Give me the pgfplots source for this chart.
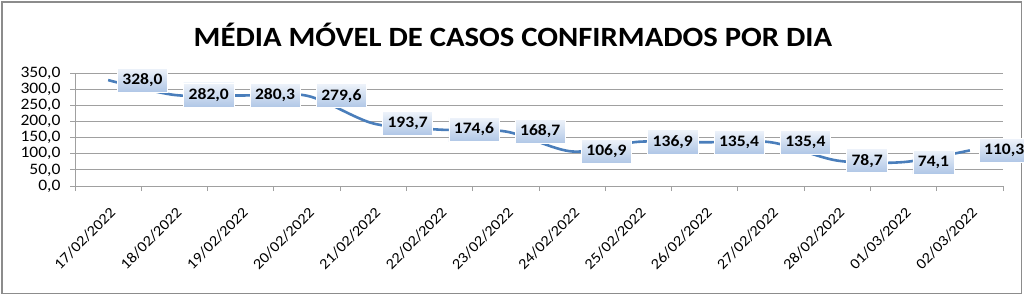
\documentclass[border=0pt]{standalone}
\usepackage{pgfplots}
\pgfplotsset{compat=1.18}
\usepackage{fontspec}
\setmainfont[FakeStretch=1.1]{Carlito}
\definecolor{linecol}{HTML}{4A7EBB}
\definecolor{gridcol}{HTML}{A0A0A0}
\definecolor{labtop}{HTML}{EEF3FA}
\definecolor{labbot}{HTML}{AFC6E6}
\definecolor{framecol}{HTML}{8C8C8C}
\begin{document}
\begin{tikzpicture}[x=1bp,y=1bp]
\useasboundingbox (0,0) rectangle (1024,296);
\draw[draw=framecol, line width=1.2bp] (2,2.5) rectangle (1021.5,294);
\node[font=\fontsize{28}{30}\selectfont\bfseries] at (513,261) {MÉDIA MÓVEL DE CASOS CONFIRMADOS POR DIA};
\begin{axis}[
  at={(75bp,110bp)}, anchor=south west,
  scale only axis, width=928bp, height=113bp,
  xmin=0.5, xmax=14.5, ymin=0, ymax=350,
  ytick={0,50,...,350},
  xtick={0.5,1.5,...,14.5},
  x tick label as interval,
  xticklabels={17/02/2022,18/02/2022,19/02/2022,20/02/2022,21/02/2022,22/02/2022,23/02/2022,24/02/2022,25/02/2022,26/02/2022,27/02/2022,28/02/2022,01/03/2022,02/03/2022},
  xticklabel style={rotate=45, anchor=north east, font=\fontsize{15}{16}\selectfont, xshift=-7bp, yshift=-8bp},
  yticklabel style={font=\fontsize{16}{16}\selectfont, xshift=-6bp, /pgf/number format/.cd, fixed, fixed zerofill, precision=1, use comma, assume math mode=true},
  axis x line*=bottom, axis y line*=left,
  axis line style={draw=gridcol, line width=0.8bp, -},
  tick align=outside,
  major tick length=5bp,
  tick style={draw=gridcol, line width=0.8bp},
  ymajorgrids, grid style={draw=gridcol, line width=0.8bp},
  clip=false,
  nodes near coords={\pgfmathprintnumber[fixed,fixed zerofill,precision=1,use comma,assume math mode=true]{\pgfplotspointmeta}},
  nodes near coords style={anchor=west, xshift=9bp, yshift=0bp, draw=white, line width=0.6bp, top color=labtop, bottom color=labbot, inner xsep=5bp, inner ysep=5.5bp, font=\fontsize{16}{17}\selectfont\bfseries, text=black},
]
\addplot[linecol, line width=2.6bp, smooth, tension=0.5] coordinates {
(1,328.0) (2,282.0) (3,280.3) (4,279.6) (5,193.7) (6,174.6) (7,168.7)
(8,106.9) (9,136.9) (10,135.4) (11,135.4) (12,78.7) (13,74.1) (14,110.3)
};
\end{axis}
\end{tikzpicture}
\end{document}
